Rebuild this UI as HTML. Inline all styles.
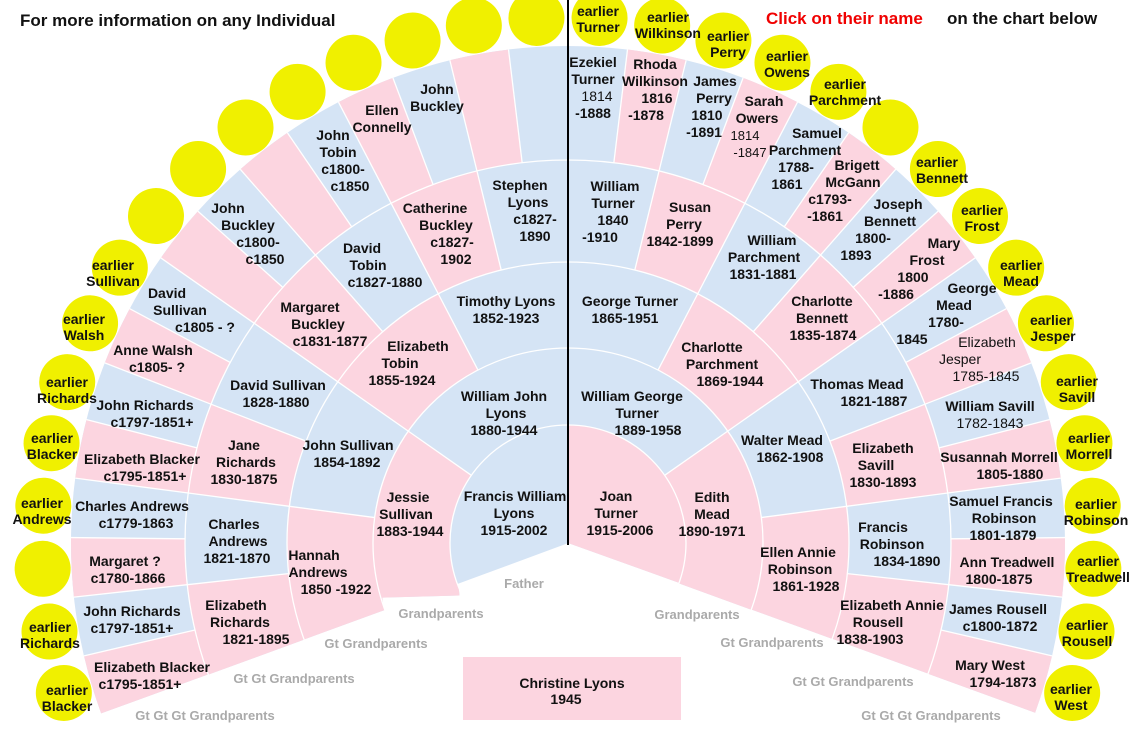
<!DOCTYPE html>
<html><head><meta charset="utf-8"><style>
html,body{margin:0;padding:0;background:#fff;width:1132px;height:744px;overflow:hidden;}
svg{display:block;}
text{font-family:"Liberation Sans",sans-serif;font-weight:bold;font-size:14px;fill:#111;text-anchor:middle;}
.g{fill:#aaa;font-size:13px;}
.h{font-size:17px;text-anchor:start;}
</style></head><body>
<svg width="1132" height="744" viewBox="0 0 1132 744" xmlns="http://www.w3.org/2000/svg">
<rect width="1132" height="744" fill="#fff"/>
<g transform="translate(568,543)">
 <g fill="none" transform="rotate(160)">
  <circle r="59" stroke="#d5e4f5" stroke-width="118" pathLength="360" stroke-dasharray="220 140"/>
  <circle r="59" stroke="#fcd5e0" stroke-width="118" pathLength="360" stroke-dasharray="0 110 110 140"/>
  <circle r="156.5" stroke="#d5e4f5" stroke-width="77" pathLength="360" stroke-dasharray="220 140"/>
  <circle r="156.5" stroke="#fcd5e0" stroke-width="77" pathLength="360" stroke-dasharray="55 110 55 140"/>
  <circle r="238" stroke="#d5e4f5" stroke-width="86" pathLength="360" stroke-dasharray="220 140"/>
  <circle r="238" stroke="#fcd5e0" stroke-width="86" pathLength="360" stroke-dasharray="27.5 27.5 27.5 55 27.5 27.5 27.5 140"/>
  <circle r="332" stroke="#d5e4f5" stroke-width="102" pathLength="360" stroke-dasharray="220 140"/>
  <circle r="332" stroke="#fcd5e0" stroke-width="102" pathLength="360" stroke-dasharray="13.75 13.75 13.75 13.75 13.75 13.75 13.75 27.5 13.75 13.75 13.75 13.75 13.75 13.75 13.75 140"/>
  <circle r="440" stroke="#d5e4f5" stroke-width="114" pathLength="360" stroke-dasharray="220 140"/>
  <circle r="440" stroke="#fcd5e0" stroke-width="114" pathLength="360" stroke-dasharray="6.875 6.875 6.875 6.875 6.875 6.875 6.875 6.875 6.875 6.875 6.875 6.875 6.875 6.875 6.875 13.75 6.875 6.875 6.875 6.875 6.875 6.875 6.875 6.875 6.875 6.875 6.875 6.875 6.875 6.875 6.875 140"/>
 </g>
 <g fill="none" stroke="#fff" stroke-width="1.3">
  <circle r="118"/><circle r="195"/><circle r="281"/><circle r="383"/>
 </g>
 <g stroke="#fff" stroke-width="1.3">
  <line x1="118" x2="195" transform="rotate(-35)"/><line x1="118" x2="195" transform="rotate(-145)"/>
  <line x1="195" x2="281" transform="rotate(-7.5)"/><line x1="195" x2="281" transform="rotate(-35)"/><line x1="195" x2="281" transform="rotate(-62.5)"/><line x1="195" x2="281" transform="rotate(-117.5)"/><line x1="195" x2="281" transform="rotate(-145)"/><line x1="195" x2="281" transform="rotate(-172.5)"/>
  <line x1="281" x2="383" transform="rotate(6.25)"/><line x1="281" x2="383" transform="rotate(-7.5)"/><line x1="281" x2="383" transform="rotate(-21.25)"/><line x1="281" x2="383" transform="rotate(-35)"/><line x1="281" x2="383" transform="rotate(-48.75)"/><line x1="281" x2="383" transform="rotate(-62.5)"/><line x1="281" x2="383" transform="rotate(-76.25)"/><line x1="281" x2="383" transform="rotate(-103.75)"/><line x1="281" x2="383" transform="rotate(-117.5)"/><line x1="281" x2="383" transform="rotate(-131.25)"/><line x1="281" x2="383" transform="rotate(-145)"/><line x1="281" x2="383" transform="rotate(-158.75)"/><line x1="281" x2="383" transform="rotate(-172.5)"/><line x1="281" x2="383" transform="rotate(-186.25)"/>
  <line x1="383" x2="497" transform="rotate(13.125)"/><line x1="383" x2="497" transform="rotate(6.25)"/><line x1="383" x2="497" transform="rotate(-0.625)"/><line x1="383" x2="497" transform="rotate(-7.5)"/><line x1="383" x2="497" transform="rotate(-14.375)"/><line x1="383" x2="497" transform="rotate(-21.25)"/><line x1="383" x2="497" transform="rotate(-28.125)"/><line x1="383" x2="497" transform="rotate(-35)"/><line x1="383" x2="497" transform="rotate(-41.875)"/><line x1="383" x2="497" transform="rotate(-48.75)"/><line x1="383" x2="497" transform="rotate(-55.625)"/><line x1="383" x2="497" transform="rotate(-62.5)"/><line x1="383" x2="497" transform="rotate(-69.375)"/><line x1="383" x2="497" transform="rotate(-76.25)"/><line x1="383" x2="497" transform="rotate(-83.125)"/><line x1="383" x2="497" transform="rotate(-96.875)"/><line x1="383" x2="497" transform="rotate(-103.75)"/><line x1="383" x2="497" transform="rotate(-110.625)"/><line x1="383" x2="497" transform="rotate(-117.5)"/><line x1="383" x2="497" transform="rotate(-124.375)"/><line x1="383" x2="497" transform="rotate(-131.25)"/><line x1="383" x2="497" transform="rotate(-138.125)"/><line x1="383" x2="497" transform="rotate(-145)"/><line x1="383" x2="497" transform="rotate(-151.875)"/><line x1="383" x2="497" transform="rotate(-158.75)"/><line x1="383" x2="497" transform="rotate(-165.625)"/><line x1="383" x2="497" transform="rotate(-172.5)"/><line x1="383" x2="497" transform="rotate(-179.375)"/><line x1="383" x2="497" transform="rotate(-186.25)"/><line x1="383" x2="497" transform="rotate(-193.125)"/>
 </g>
 <g fill="#f0f000">
  <circle cx="526" r="28" transform="rotate(-86.5625)"/><circle cx="526" r="28" transform="rotate(-79.6875)"/><circle cx="526" r="28" transform="rotate(-72.8125)"/><circle cx="526" r="28" transform="rotate(-65.9375)"/><circle cx="526" r="28" transform="rotate(-59.0625)"/><circle cx="526" r="28" transform="rotate(-52.1875)"/><circle cx="526" r="28" transform="rotate(-45.3125)"/><circle cx="526" r="28" transform="rotate(-38.4375)"/><circle cx="526" r="28" transform="rotate(-31.5625)"/><circle cx="526" r="28" transform="rotate(-24.6875)"/><circle cx="526" r="28" transform="rotate(-17.8125)"/><circle cx="526" r="28" transform="rotate(-10.9375)"/><circle cx="526" r="28" transform="rotate(-4.0625)"/><circle cx="526" r="28" transform="rotate(2.8125)"/><circle cx="526" r="28" transform="rotate(9.6875)"/><circle cx="526" r="28" transform="rotate(16.5625)"/>
  <circle cx="526" r="28" transform="rotate(-93.4375)"/><circle cx="526" r="28" transform="rotate(-100.3125)"/><circle cx="526" r="28" transform="rotate(-107.1875)"/><circle cx="526" r="28" transform="rotate(-114.0625)"/><circle cx="526" r="28" transform="rotate(-120.9375)"/><circle cx="526" r="28" transform="rotate(-127.8125)"/><circle cx="526" r="28" transform="rotate(-134.6875)"/><circle cx="526" r="28" transform="rotate(-141.5625)"/><circle cx="526" r="28" transform="rotate(-148.4375)"/><circle cx="526" r="28" transform="rotate(-155.3125)"/><circle cx="526" r="28" transform="rotate(-162.1875)"/><circle cx="526" r="28" transform="rotate(-169.0625)"/><circle cx="526" r="28" transform="rotate(-175.9375)"/><circle cx="526" r="28" transform="rotate(-182.8125)"/><circle cx="526" r="28" transform="rotate(-189.6875)"/><circle cx="526" r="28" transform="rotate(-196.5625)"/>
 </g>
</g>
<line x1="568" y1="0" x2="568" y2="545" stroke="#000" stroke-width="2"/>

<text class="h" x="20" y="26">For more information on any Individual</text>
<text class="h" x="766" y="24" style="fill:#f00000">Click on their name</text>
<text class="h" x="947" y="24">on the chart below</text>

<text x="598" y="16">earlier<tspan x="598" dy="16">Turner</tspan></text>
<text x="668" y="22">earlier<tspan x="668" dy="16">Wilkinson</tspan></text>
<text x="728" y="41">earlier<tspan x="728" dy="16">Perry</tspan></text>
<text x="787" y="61">earlier<tspan x="787" dy="16">Owens</tspan></text>
<text x="845" y="89">earlier<tspan x="845" dy="16">Parchment</tspan></text>
<text x="937" y="167">earlier<tspan x="942" dy="16">Bennett</tspan></text>
<text x="982" y="215">earlier<tspan x="982" dy="16">Frost</tspan></text>
<text x="1021" y="270">earlier<tspan x="1021" dy="16">Mead</tspan></text>
<text x="1051" y="325">earlier<tspan x="1053" dy="16">Jesper</tspan></text>
<text x="1077" y="386">earlier<tspan x="1077" dy="16">Savill</tspan></text>
<text x="1089" y="443">earlier<tspan x="1089" dy="16">Morrell</tspan></text>
<text x="1096" y="509">earlier<tspan x="1096" dy="16">Robinson</tspan></text>
<text x="1098" y="566">earlier<tspan x="1098" dy="16">Treadwell</tspan></text>
<text x="1087" y="630">earlier<tspan x="1087" dy="16">Rousell</tspan></text>
<text x="1071" y="694">earlier<tspan x="1071" dy="16">West</tspan></text>
<text x="113" y="270">earlier<tspan x="113" dy="16">Sullivan</tspan></text>
<text x="84" y="324">earlier<tspan x="84" dy="16">Walsh</tspan></text>
<text x="67" y="387">earlier<tspan x="67" dy="16">Richards</tspan></text>
<text x="52" y="443">earlier<tspan x="52" dy="16">Blacker</tspan></text>
<text x="42" y="508">earlier<tspan x="42" dy="16">Andrews</tspan></text>
<text x="50" y="632">earlier<tspan x="50" dy="16">Richards</tspan></text>
<text x="67" y="695">earlier<tspan x="67" dy="16">Blacker</tspan></text>

<text x="437" y="94">John<tspan x="437" dy="17">Buckley</tspan></text>
<text x="382" y="115">Ellen<tspan x="382" dy="17">Connelly</tspan></text>
<text x="333" y="140">John<tspan x="338" dy="17">Tobin</tspan><tspan x="343" dy="17">c1800-</tspan><tspan x="350" dy="17">c1850</tspan></text>
<text x="228" y="213">John<tspan x="248" dy="17">Buckley</tspan><tspan x="258" dy="17">c1800-</tspan><tspan x="265" dy="17">c1850</tspan></text>
<text x="167" y="298">David<tspan x="180" dy="17">Sullivan</tspan><tspan x="205" dy="17">c1805 - ?</tspan></text>
<text x="153" y="355">Anne Walsh<tspan x="157" dy="17">c1805- ?</tspan></text>
<text x="145" y="410">John Richards<tspan x="152" dy="17">c1797-1851+</tspan></text>
<text x="142" y="464">Elizabeth Blacker<tspan x="145" dy="17">c1795-1851+</tspan></text>
<text x="132" y="511">Charles Andrews<tspan x="136" dy="17">c1779-1863</tspan></text>
<text x="125" y="566">Margaret ?<tspan x="128" dy="17">c1780-1866</tspan></text>
<text x="132" y="616">John Richards<tspan x="132" dy="17">c1797-1851+</tspan></text>
<text x="152" y="672">Elizabeth Blacker<tspan x="140" dy="17">c1795-1851+</tspan></text>
<text x="520" y="190">Stephen<tspan x="528" dy="17">Lyons</tspan><tspan x="535" dy="17">c1827-</tspan><tspan x="535" dy="17">1890</tspan></text>
<text x="435" y="213">Catherine<tspan x="446" dy="17">Buckley</tspan><tspan x="452" dy="17">c1827-</tspan><tspan x="456" dy="17">1902</tspan></text>
<text x="362" y="253">David<tspan x="368" dy="17">Tobin</tspan><tspan x="385" dy="17">c1827-1880</tspan></text>
<text x="310" y="312">Margaret<tspan x="318" dy="17">Buckley</tspan><tspan x="330" dy="17">c1831-1877</tspan></text>
<text x="278" y="390">David Sullivan<tspan x="276" dy="17">1828-1880</tspan></text>
<text x="244" y="450">Jane<tspan x="246" dy="17">Richards</tspan><tspan x="244" dy="17">1830-1875</tspan></text>
<text x="234" y="529">Charles<tspan x="238" dy="17">Andrews</tspan><tspan x="237" dy="17">1821-1870</tspan></text>
<text x="236" y="610">Elizabeth<tspan x="240" dy="17">Richards</tspan><tspan x="256" dy="17">1821-1895</tspan></text>
<text x="506" y="306">Timothy Lyons<tspan x="506" dy="17">1852-1923</tspan></text>
<text x="418" y="351">Elizabeth<tspan x="400" dy="17">Tobin</tspan><tspan x="402" dy="17">1855-1924</tspan></text>
<text x="348" y="450">John Sullivan<tspan x="347" dy="17">1854-1892</tspan></text>
<text x="314" y="560">Hannah<tspan x="318" dy="17">Andrews</tspan><tspan x="336" dy="17">1850 -1922</tspan></text>
<text x="504" y="401">William John<tspan x="506" dy="17">Lyons</tspan><tspan x="504" dy="17">1880-1944</tspan></text>
<text x="408" y="502">Jessie<tspan x="406" dy="17">Sullivan</tspan><tspan x="410" dy="17">1883-1944</tspan></text>
<text x="515" y="501">Francis William<tspan x="514" dy="17">Lyons</tspan><tspan x="514" dy="17">1915-2002</tspan></text>
<text x="616" y="501">Joan<tspan x="616" dy="17">Turner</tspan><tspan x="620" dy="17">1915-2006</tspan></text>
<text x="712" y="502">Edith<tspan x="712" dy="17">Mead</tspan><tspan x="712" dy="17">1890-1971</tspan></text>
<text x="632" y="401">William George<tspan x="637" dy="17">Turner</tspan><tspan x="648" dy="17">1889-1958</tspan></text>
<text x="630" y="306">George Turner<tspan x="625" dy="17">1865-1951</tspan></text>
<text x="712" y="352">Charlotte<tspan x="722" dy="17">Parchment</tspan><tspan x="730" dy="17">1869-1944</tspan></text>
<text x="782" y="445">Walter Mead<tspan x="790" dy="17">1862-1908</tspan></text>
<text x="798" y="557">Ellen Annie<tspan x="800" dy="17">Robinson</tspan><tspan x="806" dy="17">1861-1928</tspan></text>
<text x="615" y="191">William<tspan x="613" dy="17">Turner</tspan><tspan x="613" dy="17">1840</tspan><tspan x="600" dy="17">-1910</tspan></text>
<text x="690" y="212">Susan<tspan x="684" dy="17">Perry</tspan><tspan x="680" dy="17">1842-1899</tspan></text>
<text x="772" y="245">William<tspan x="764" dy="17">Parchment</tspan><tspan x="763" dy="17">1831-1881</tspan></text>
<text x="822" y="306">Charlotte<tspan x="822" dy="17">Bennett</tspan><tspan x="823" dy="17">1835-1874</tspan></text>
<text x="857" y="389">Thomas Mead<tspan x="874" dy="17">1821-1887</tspan></text>
<text x="883" y="453">Elizabeth<tspan x="876" dy="17">Savill</tspan><tspan x="883" dy="17">1830-1893</tspan></text>
<text x="883" y="532">Francis<tspan x="892" dy="17">Robinson</tspan><tspan x="907" dy="17">1834-1890</tspan></text>
<text x="892" y="610">Elizabeth Annie<tspan x="878" dy="17">Rousell</tspan><tspan x="870" dy="17">1838-1903</tspan></text>
<text x="593" y="67">Ezekiel<tspan x="593" dy="17">Turner</tspan><tspan x="597" dy="17" style="font-weight:normal">1814</tspan><tspan x="593" dy="17">-1888</tspan></text>
<text x="655" y="69">Rhoda<tspan x="655" dy="17">Wilkinson</tspan><tspan x="657" dy="17">1816</tspan><tspan x="646" dy="17">-1878</tspan></text>
<text x="715" y="86">James<tspan x="714" dy="17">Perry</tspan><tspan x="707" dy="17">1810</tspan><tspan x="704" dy="17">-1891</tspan></text>
<text x="764" y="106">Sarah<tspan x="757" dy="17">Owers</tspan><tspan x="745" dy="17" style="font-weight:normal;font-size:13px">1814</tspan><tspan x="750" dy="17" style="font-weight:normal;font-size:13px">-1847</tspan></text>
<text x="817" y="138">Samuel<tspan x="805" dy="17">Parchment</tspan><tspan x="796" dy="17">1788-</tspan><tspan x="787" dy="17">1861</tspan></text>
<text x="857" y="170">Brigett<tspan x="853" dy="17">McGann</tspan><tspan x="830" dy="17">c1793-</tspan><tspan x="825" dy="17">-1861</tspan></text>
<text x="898" y="209">Joseph<tspan x="890" dy="17">Bennett</tspan><tspan x="873" dy="17">1800-</tspan><tspan x="856" dy="17">1893</tspan></text>
<text x="944" y="248">Mary<tspan x="927" dy="17">Frost</tspan><tspan x="913" dy="17">1800</tspan><tspan x="896" dy="17">-1886</tspan></text>
<text x="972" y="293">George<tspan x="954" dy="17">Mead</tspan><tspan x="946" dy="17">1780-</tspan><tspan x="912" dy="17">1845</tspan></text>
<text x="987" y="347" style="font-weight:normal">Elizabeth<tspan x="960" dy="17">Jesper</tspan><tspan x="986" dy="17">1785-1845</tspan></text>
<text x="990" y="411">William Savill<tspan x="990" dy="17" style="font-weight:normal">1782-1843</tspan></text>
<text x="999" y="462">Susannah Morrell<tspan x="1010" dy="17">1805-1880</tspan></text>
<text x="1001" y="506">Samuel Francis<tspan x="1004" dy="17">Robinson</tspan><tspan x="1003" dy="17">1801-1879</tspan></text>
<text x="1007" y="567">Ann Treadwell<tspan x="999" dy="17">1800-1875</tspan></text>
<text x="998" y="614">James Rousell<tspan x="1000" dy="17">c1800-1872</tspan></text>
<text x="990" y="670">Mary West<tspan x="1003" dy="17">1794-1873</tspan></text>

<text class="g" x="524" y="588">Father</text>
<text class="g" x="441" y="618">Grandparents</text>
<text class="g" x="697" y="619">Grandparents</text>
<text class="g" x="376" y="648">Gt Grandparents</text>
<text class="g" x="772" y="647">Gt Grandparents</text>
<text class="g" x="294" y="683">Gt Gt Grandparents</text>
<text class="g" x="853" y="686">Gt Gt Grandparents</text>
<text class="g" x="205" y="720">Gt Gt Gt Grandparents</text>
<text class="g" x="931" y="720">Gt Gt Gt Grandparents</text>

<rect x="463" y="657" width="218" height="63" fill="#fcd5e0"/>
<text x="572" y="688">Christine Lyons<tspan x="566" dy="16">1945</tspan></text>
</svg>
</body></html>
